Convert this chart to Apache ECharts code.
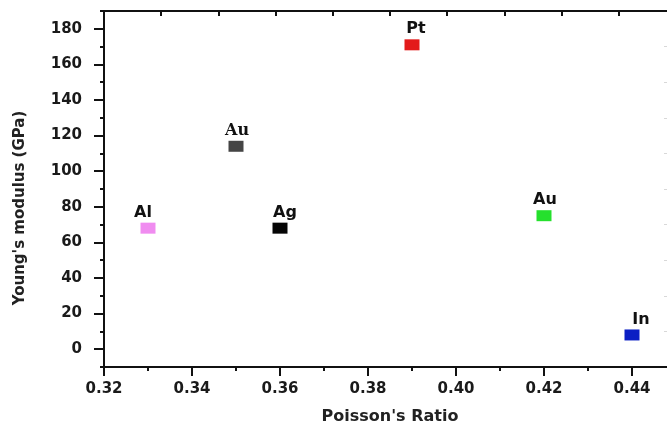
<!DOCTYPE html>
<html>
<head>
<meta charset="utf-8">
<script src="https://cdn.jsdelivr.net/npm/echarts@6/dist/echarts.min.js"></script>
<style>html,body{margin:0;padding:0;background:#fff}#c{width:667px;height:430px}</style>
</head>
<body>
<div id="c"></div>
<script>
// ---- data ----
const materials = ['Al', 'Au', 'Ag', 'Pt', 'Au', 'In'];
const poissonRatio = [0.33, 0.35, 0.36, 0.39, 0.42, 0.44];
const youngsModulus = [68, 114, 68, 171, 75, 8];
const xTicks = [0.32, 0.34, 0.36, 0.38, 0.40, 0.42, 0.44];
const yTicks = [0, 20, 40, 60, 80, 100, 120, 140, 160, 180];
const rightTicks = [10, 30, 50, 70, 90, 110, 130, 150, 170];

// ---- styles (kept apart from data) ----
const markerColors = ['#f08cf0', '#454545', '#050505', '#e31b1b', '#25e02d', '#0b1fc4'];
const labelFonts = ['DejaVu Sans', 'DejaVu Serif', 'DejaVu Sans', 'DejaVu Sans', 'DejaVu Sans', 'DejaVu Sans'];
const labelOffsets = [[-5, 0], [1, 0], [5, 0], [4, 0], [1, 0], [9, 0]];

const font = 'DejaVu Sans';
const axisColor = '#111';
const chart = echarts.init(document.getElementById('c'), null, {renderer: 'canvas'});

const points = materials.map((m, i) => ({
  name: m,
  value: [poissonRatio[i], youngsModulus[i]],
  itemStyle: {color: markerColors[i], opacity: 1},
  label: {
    show: true, position: 'top', distance: 2, formatter: m,
    fontFamily: labelFonts[i], fontWeight: 'bold', fontSize: 16, color: '#111', opacity: 1,
    offset: labelOffsets[i]
  }
}));

const lineStyle = {color: axisColor, width: 2};

chart.setOption({
  animation: false,
  backgroundColor: '#fff',
  grid: {left: 104, top: 11, right: -9, bottom: 63, containLabel: false, outerBoundsMode: 'none'},
  xAxis: [{
    type: 'value', min: 0.32, max: 0.45, interval: 0.02,
    name: "Poisson's Ratio", nameLocation: 'middle', nameGap: 42,
    nameTextStyle: {fontFamily: font, fontWeight: 'bold', fontSize: 16, color: '#222'},
    axisLine: {show: true, onZero: false, lineStyle},
    axisTick: {show: true, inside: false, length: 9, lineStyle},
    minorTick: {show: true, splitNumber: 2, length: 4, lineStyle},
    splitLine: {show: false},
    axisLabel: {
      margin: 15, showMaxLabel: false, fontFamily: font, fontWeight: 'bold', fontSize: 15, color: '#1a1a1a',
      formatter: v => {
        const t = xTicks.find(x => Math.abs(x - v) < 1e-9);
        return t === undefined ? '' : t.toFixed(2);
      }
    }
  }, {
    type: 'value', position: 'top', min: 0, max: 10, interval: 1,
    axisLine: {show: true, onZero: false, lineStyle},
    axisTick: {show: true, inside: true, length: 5, lineStyle},
    axisLabel: {show: false}, splitLine: {show: false}
  }],
  yAxis: [{
    type: 'value', position: 'left', min: -10, max: 190,
    name: "Young's modulus (GPa)", nameLocation: 'middle', nameGap: 76,
    nameTextStyle: {fontFamily: font, fontWeight: 'bold', fontSize: 15, color: '#222', padding: [0, 38, 0, 0]},
    axisLine: {show: true, onZero: false, lineStyle},
    axisTick: {show: true, inside: false, length: 10, customValues: yTicks, lineStyle},
    splitLine: {show: false},
    axisLabel: {
      margin: 22, customValues: yTicks,
      fontFamily: font, fontWeight: 'bold', fontSize: 15, color: '#1a1a1a'
    }
  }, {
    type: 'value', position: 'left', min: -10, max: 190, interval: 10,
    axisLine: {show: true, onZero: false, lineStyle},
    axisTick: {show: true, inside: false, length: 4, lineStyle},
    axisLabel: {show: false}, splitLine: {show: false}
  }, {
    type: 'value', position: 'right', min: -10, max: 190,
    axisLine: {show: true, onZero: false, lineStyle},
    axisTick: {show: true, inside: true, length: 12, customValues: rightTicks, lineStyle: {color: '#d8d8d8', width: 1}},
    axisLabel: {show: false}, splitLine: {show: false}
  }],
  series: [{
    type: 'scatter', xAxisIndex: 0, yAxisIndex: 0,
    symbol: 'rect', symbolSize: [15, 11],
    data: points
  }]
});
</script>
</body>
</html>
